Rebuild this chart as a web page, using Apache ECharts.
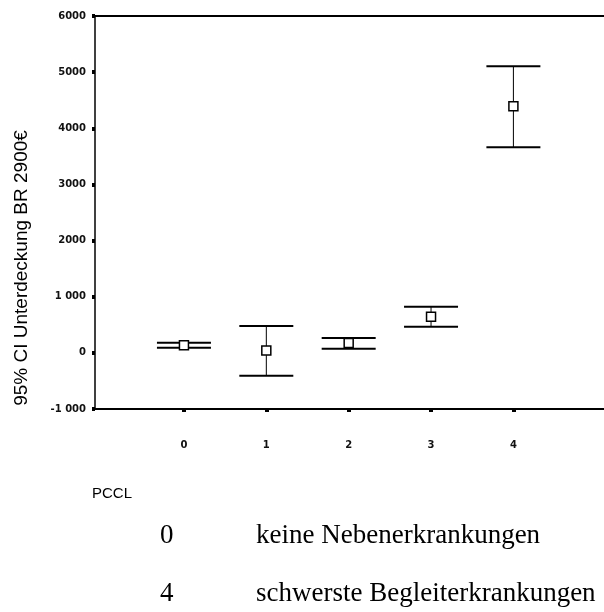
<!DOCTYPE html>
<html>
<head>
<meta charset="utf-8">
<script src="https://cdn.jsdelivr.net/npm/echarts@6/dist/echarts.min.js"></script>
<style>html,body{margin:0;padding:0;background:#fff}#c{width:604px;height:612px}</style>
</head>
<body>
<div id="c"></div>
<script>
const pccl = [0, 1, 2, 3, 4];
const ciLower = [90, -408, 71, 465, 3664];
const meanVal = [135, 40, 175, 645, 4393];
const ciUpper = [178, 480, 266, 820, 5103];
const xTickLabels = ['0', '1', '2', '3', '4'];
const yTickLabels = ['-1 000', '0', '1 000', '2000', '3000', '4000', '5000', '6000'];
const yTitle = '95% CI Unterdeckung BR 2900€';
const xTitle = 'PCCL';
const legendCodes = ['0', '4'];
const legendTexts = ['keine Nebenerkrankungen', 'schwerste Begleiterkrankungen'];

const data = pccl.map((p, i) => [p, ciLower[i], meanVal[i], ciUpper[i]]);
const tickFont = { fontFamily: 'DejaVu Sans', fontWeight: 'bold', fontSize: 10, color: '#111' };

const chart = echarts.init(document.getElementById('c'), null, { renderer: 'canvas' });
chart.setOption({
  backgroundColor: '#fff',
  animation: false,
  grid: { left: 95, right: 0, top: 16, bottom: 203, containLabel: false },
  xAxis: [{
    type: 'value', min: -1.08, max: 5.1, position: 'bottom',
    splitLine: { show: false },
    axisLine: { show: true, onZero: false, lineStyle: { color: '#000', width: 2 } },
    axisTick: { show: true, customValues: pccl, length: 3, lineStyle: { color: '#000', width: 4 } },
    axisLabel: Object.assign({ customValues: pccl, margin: 31, formatter: v => xTickLabels[pccl.indexOf(v)] }, tickFont)
  }, {
    type: 'value', min: -1.08, max: 5.1, position: 'top',
    splitLine: { show: false },
    axisLine: { show: true, onZero: false, lineStyle: { color: '#000', width: 2 } },
    axisTick: { show: false }, axisLabel: { show: false }
  }],
  yAxis: {
    type: 'value', min: -1000, max: 6000, interval: 1000, position: 'left',
    splitLine: { show: false },
    axisLine: { show: true, onZero: false, lineStyle: { color: '#000', width: 1.5 } },
    axisTick: { show: true, length: 3, lineStyle: { color: '#000', width: 4 } },
    axisLabel: Object.assign({ margin: 9, formatter: v => yTickLabels[Math.round((v + 1000) / 1000)] }, tickFont)
  },
  series: [{
    type: 'custom',
    data: data,
    renderItem: function (params, api) {
      const x = api.value(0);
      const lo = api.coord([x, api.value(1)]);
      const mid = api.coord([x, api.value(2)]);
      const hi = api.coord([x, api.value(3)]);
      const hw = 27, s = 9;
      return {
        type: 'group',
        children: [
          { type: 'line', shape: { x1: lo[0], y1: lo[1], x2: hi[0], y2: hi[1] }, style: { stroke: '#000', lineWidth: 1 } },
          { type: 'line', shape: { x1: hi[0] - hw, y1: hi[1], x2: hi[0] + hw, y2: hi[1] }, style: { stroke: '#000', lineWidth: 2 } },
          { type: 'line', shape: { x1: lo[0] - hw, y1: lo[1], x2: lo[0] + hw, y2: lo[1] }, style: { stroke: '#000', lineWidth: 2 } },
          { type: 'rect', shape: { x: mid[0] - s / 2, y: mid[1] - s / 2, width: s, height: s }, style: { fill: '#fff', stroke: '#000', lineWidth: 1.5 } }
        ]
      };
    }
  }],
  graphic: [
    { type: 'text', x: 22, y: 268, rotation: Math.PI / 2,
      style: { text: yTitle, fontFamily: 'Liberation Sans', fontSize: 19, fill: '#000', textAlign: 'center', textVerticalAlign: 'middle' } },
    { type: 'text', x: 92, y: 494,
      style: { text: xTitle, fontFamily: 'Liberation Sans', fontSize: 15, fill: '#000', textAlign: 'left', textVerticalAlign: 'middle' } },
    { type: 'text', x: 160, y: 536,
      style: { text: legendCodes[0], fontFamily: 'Liberation Serif', fontSize: 27, fill: '#000', textAlign: 'left', textVerticalAlign: 'middle' } },
    { type: 'text', x: 256, y: 536,
      style: { text: legendTexts[0], fontFamily: 'Liberation Serif', fontSize: 27, fill: '#000', textAlign: 'left', textVerticalAlign: 'middle' } },
    { type: 'text', x: 160, y: 594,
      style: { text: legendCodes[1], fontFamily: 'Liberation Serif', fontSize: 27, fill: '#000', textAlign: 'left', textVerticalAlign: 'middle' } },
    { type: 'text', x: 256, y: 594,
      style: { text: legendTexts[1], fontFamily: 'Liberation Serif', fontSize: 27, fill: '#000', textAlign: 'left', textVerticalAlign: 'middle' } }
  ]
});
</script>
</body>
</html>
